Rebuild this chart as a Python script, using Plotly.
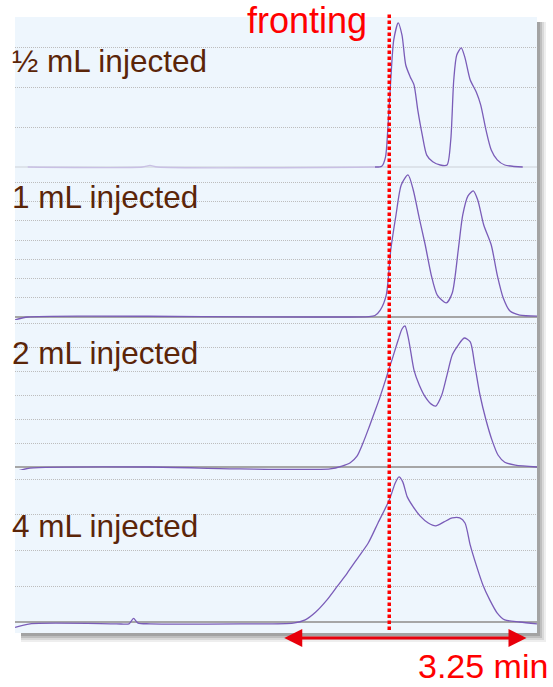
import plotly.graph_objects as go
from plotly.subplots import make_subplots

# ---------------- data ----------------
panel_labels = ["½ mL injected", "1 mL injected", "2 mL injected", "4 mL injected"]

# retention time (min) and detector signal (arbitrary units, gridline = 1)
t_half = [4.80, 4.89, 4.94, 4.97, 5.01, 5.05, 5.11, 5.16, 5.21, 5.27, 5.32,
          5.37, 5.43, 5.49, 5.57, 5.67, 5.76, 5.81, 5.85, 5.89, 5.95, 6.00, 6.07, 6.15,
          6.21, 6.28, 6.35, 6.43, 6.53, 6.77]
s_half = [0.0, 0.02, 0.25, 0.93, 2.19, 3.20, 3.63, 3.32, 2.57, 2.27, 2.07,
          1.44, 0.81, 0.30, 0.13, 0.05, 0.05, 0.68, 2.19, 2.82, 3.00, 2.75, 2.19, 1.89,
          1.56, 0.93, 0.43, 0.18, 0.05, 0.0]
t_half_base = [0.17, 1.70, 1.80, 1.90, 4.80]
s_half_base = [0.0, 0.0, 0.04, 0.0, 0.0]

t_1 = [0.00, 0.17, 1.00, 2.50, 4.00, 4.72, 4.80, 4.87, 4.95, 5.01, 5.08, 5.15, 5.24, 5.31, 5.39,
       5.47, 5.55, 5.63, 5.75, 5.83, 5.91, 5.97, 6.04, 6.11, 6.17, 6.25, 6.35, 6.43,
       6.51, 6.60, 6.73, 6.96]
s_1 = [-0.15, 0.0, 0.05, 0.02, 0.0, 0.02, 0.08, 0.36, 1.14, 3.48, 5.30, 6.86, 7.38, 6.60, 5.14,
       3.74, 2.18, 1.14, 0.73, 1.25, 3.48, 5.30, 6.29, 6.55, 6.08, 4.78, 3.74, 2.18,
       0.99, 0.31, 0.10, 0.05]

t_2 = [0.00, 0.20, 1.80, 3.00, 4.20, 4.36, 4.47, 4.56, 4.64, 4.72, 4.79, 4.86, 4.91, 4.97,
       5.04, 5.11, 5.16, 5.20, 5.25, 5.32, 5.39, 5.47, 5.55, 5.61, 5.69, 5.76, 5.83, 5.91, 5.99,
       6.07, 6.13, 6.20, 6.28, 6.36, 6.44, 6.53, 6.67, 6.96]
s_2 = [-0.2, -0.05, 0.0, -0.08, -0.08, 0.04, 0.18, 0.45, 1.00, 1.65, 2.25, 2.85, 3.33, 3.92,
       4.60, 5.30, 5.75, 5.875, 5.29, 4.04, 3.42, 2.92, 2.62, 2.54, 3.00, 3.83, 4.67, 5.08, 5.375,
       5.21, 4.25, 3.00, 1.96, 1.12, 0.50, 0.20, 0.08, 0.0]

t_4 = [0.00, 0.20, 1.35, 1.52, 1.58, 1.64, 1.80, 3.00, 3.71, 3.87, 4.01, 4.16, 4.29, 4.43,
       4.57, 4.71, 4.84, 4.99, 5.07, 5.12, 5.17, 5.23, 5.31, 5.40, 5.51, 5.61, 5.72,
       5.83, 5.93, 6.00, 6.07, 6.15, 6.24, 6.33, 6.43, 6.53, 6.73, 6.96]
s_4 = [-0.15, -0.05, -0.05, -0.05, 0.10, -0.03, -0.05, -0.05, -0.03, 0.06, 0.28, 0.62, 0.98, 1.37,
       1.79, 2.21, 2.77, 3.41, 3.89, 4.06, 3.92, 3.50, 3.22, 2.97, 2.77, 2.69, 2.80,
       2.91, 2.91, 2.77, 2.15, 1.59, 1.03, 0.62, 0.25, 0.06, 0.0, -0.05]

fronting_time = 4.99          # min
width_start, width_end = 3.57, 6.82   # min (3.25 min peak width)

# ---------------- figure ----------------
W, H = 553, 687
L, R, T, B = 15, 16, 17, 54
pw, ph = W - L - R, H - T - B

fig = make_subplots(rows=4, cols=1, shared_xaxes=True, vertical_spacing=0)

LINE = dict(color="#7a5cb8", width=1.3, shape="spline", smoothing=0.7)
fig.add_trace(go.Scatter(x=t_half_base, y=s_half_base, mode="lines",
                         line=dict(color="#c9c0e4", width=1.3, shape="spline", smoothing=0.7),
                         showlegend=False, hoverinfo="skip"), row=1, col=1)
series = [(t_half, s_half), (t_1, s_1), (t_2, s_2), (t_4, s_4)]
for i, (tx, sy) in enumerate(series):
    fig.add_trace(go.Scatter(x=tx, y=sy, mode="lines", line=LINE, showlegend=False,
                             hoverinfo="skip"), row=i + 1, col=1)

def py(p):  # pixel y -> paper
    return (H - B - p) / ph

def px(p):
    return (p - L) / pw

# panel pixel bounds, baseline pixel, px-per-unit
panels = [(17, 170, 167, 39.7), (170, 320, 317, 19.25), (320, 470, 467, 24.0), (470, 633, 622, 35.75)]
for i, (top, bot, base, ppu) in enumerate(panels):
    yk = "yaxis" if i == 0 else f"yaxis{i+1}"
    fig.layout[yk].update(
        domain=[py(bot), py(top)],
        range=[-(bot - base) / ppu, (base - top) / ppu],
        dtick=1, tick0=0, showticklabels=False, ticks="",
        showgrid=True, gridcolor="#bdbdbd", gridwidth=1, griddash="1px,1px",
        zeroline=True, zerolinecolor="#dde3ea" if i == 0 else "#a6a6a6",
        zerolinewidth=1.5 if i == 0 else 2, showline=False, fixedrange=True)
    xk = "xaxis" if i == 0 else f"xaxis{i+1}"
    fig.layout[xk].update(range=[0, 6.96], showgrid=False, zeroline=False,
                          showticklabels=False, ticks="", showline=False)

shapes = []
# shadow
for k, (off, op) in enumerate([(9, 0.10), (7, 0.14), (5, 0.20), (3, 0.28)]):
    shapes.append(dict(type="rect", xref="paper", yref="paper", layer="below",
                       x0=px(L + 6), x1=px(W - R + off), y0=py(H - B + off), y1=py(T + 5),
                       fillcolor=f"rgba(90,90,90,{op})", line=dict(width=0)))
shapes.append(dict(type="rect", xref="paper", yref="paper", layer="below",
                   x0=0, x1=1, y0=0, y1=1, fillcolor="#eef6fd", line=dict(width=0)))
# fronting line
shapes.append(dict(type="line", xref="x", yref="paper", layer="above",
                   x0=fronting_time, x1=fronting_time, y0=py(630), y1=py(13),
                   line=dict(color="#ff0000", width=3.5, dash="3.5px,2.5px")))

annotations = []
label_y = [61, 197, 353, 526]
for lab, yy in zip(panel_labels, label_y):
    annotations.append(dict(text=lab, xref="paper", yref="paper", x=px(10), y=py(yy),
                            xanchor="left", yanchor="middle", showarrow=False,
                            font=dict(family="Liberation Sans, Arial", size=31.5, color="#5b2508")))
annotations.append(dict(text="fronting", xref="paper", yref="paper", x=px(307), y=py(21),
                        xanchor="center", yanchor="middle", showarrow=False,
                        font=dict(family="Liberation Sans, Arial", size=36, color="#ff0000")))
annotations.append(dict(text="3.25 min", xref="paper", yref="paper", x=px(549), y=py(686),
                        xanchor="right", yanchor="bottom", showarrow=False, borderpad=0,
                        font=dict(family="Liberation Sans, Arial", size=34, color="#ff0000")))
annotations.append(dict(text="", x=width_end, y=py(638), xref="x", yref="paper",
                        ax=width_start, ay=0, axref="x", ayref="pixel",
                        showarrow=True, arrowhead=2, arrowside="end+start",
                        arrowsize=1.2, arrowwidth=3, arrowcolor="#e8000b"))

fig.update_layout(width=W, height=H, margin=dict(l=L, r=R, t=T, b=B),
                  paper_bgcolor="white", plot_bgcolor="rgba(0,0,0,0)",
                  shapes=shapes, annotations=annotations, showlegend=False)

fig.write_html("out.html", config={"displayModeBar": False})
